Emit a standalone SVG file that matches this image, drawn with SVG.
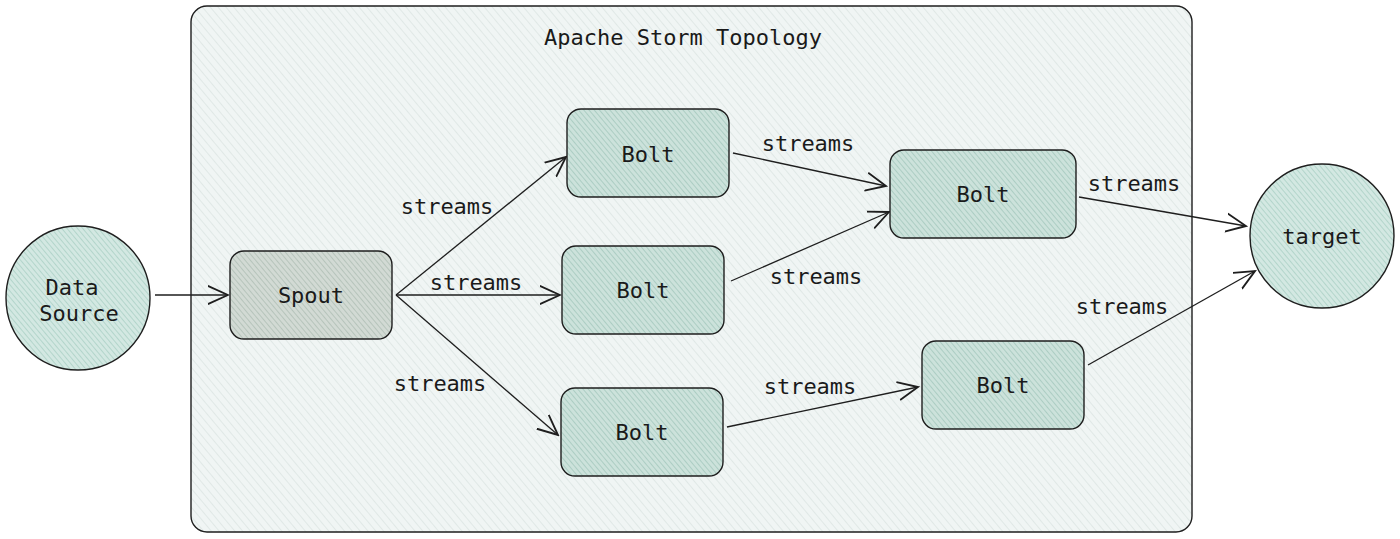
<svg xmlns="http://www.w3.org/2000/svg" width="1400" height="539" viewBox="0 0 1400 539">
<style>
.t{font-family:"DejaVu Sans Mono","Liberation Mono",monospace;font-size:22px;fill:#1a1a1a;text-anchor:middle;dominant-baseline:central}
.box{stroke:#1e1e1e;stroke-width:1.4}
.c{stroke:#1e1e1e;stroke-width:1.3;fill:none;marker-end:url(#ah)}
</style>
<defs>
<pattern id="hc" width="6" height="6" patternUnits="userSpaceOnUse" patternTransform="rotate(-40)">
<rect width="6" height="6" fill="#f0f5f4"/><line x1="0" y1="0" x2="0" y2="6" stroke="#d5e0dd" stroke-width="1.2"/>
</pattern>
<pattern id="hb" width="4" height="4" patternUnits="userSpaceOnUse" patternTransform="rotate(-40)">
<rect width="4" height="4" fill="#cce2db"/><line x1="0" y1="0" x2="0" y2="4" stroke="#9fc4b9" stroke-width="1.4"/>
</pattern>
<pattern id="hs" width="4" height="4" patternUnits="userSpaceOnUse" patternTransform="rotate(-40)">
<rect width="4" height="4" fill="#d2dad4"/><line x1="0" y1="0" x2="0" y2="4" stroke="#aabbb0" stroke-width="1.4"/>
</pattern>
<pattern id="hk" width="4" height="4" patternUnits="userSpaceOnUse" patternTransform="rotate(-40)">
<rect width="4" height="4" fill="#d3e8e2"/><line x1="0" y1="0" x2="0" y2="4" stroke="#a6cdc2" stroke-width="1.4"/>
</pattern>
<marker id="ah" viewBox="0 0 12 12" refX="11" refY="6" markerWidth="22" markerHeight="22" markerUnits="userSpaceOnUse" orient="auto">
<path d="M0,1 L11,6 L0,11" fill="none" stroke="#1e1e1e" stroke-width="1"/>
</marker>
</defs>
<rect width="1400" height="539" fill="#ffffff"/>
<g id="topology">
<rect class="box" x="191" y="6" width="1001" height="526" rx="16" fill="url(#hc)"/>
<text class="t" x="683" y="37">Apache Storm Topology</text>
</g>
<g id="connectors">
<line class="c" x1="155" y1="295" x2="228" y2="295"/>
<line class="c" x1="396" y1="295" x2="566" y2="157"/>
<line class="c" x1="396" y1="295" x2="560" y2="295"/>
<line class="c" x1="396" y1="295" x2="558" y2="435"/>
<line class="c" x1="733" y1="153" x2="886" y2="186"/>
<line class="c" x1="731" y1="281" x2="889" y2="212"/>
<line class="c" x1="727" y1="427" x2="918" y2="387"/>
<line class="c" x1="1079" y1="197" x2="1246" y2="226"/>
<line class="c" x1="1088" y1="365" x2="1255" y2="271"/>
<text class="t" x="447" y="206">streams</text>
<text class="t" x="476" y="282">streams</text>
<text class="t" x="440" y="383">streams</text>
<text class="t" x="808" y="143">streams</text>
<text class="t" x="816" y="276">streams</text>
<text class="t" x="810" y="386">streams</text>
<text class="t" x="1134" y="183">streams</text>
<text class="t" x="1122" y="306">streams</text>
</g>
<g id="data-source">
<circle class="box" cx="78" cy="298" r="72" fill="url(#hk)"/>
<text class="t" x="72" y="287">Data</text>
<text class="t" x="79" y="313">Source</text>
</g>
<g id="spout">
<rect class="box" x="230" y="251" width="162" height="88" rx="14" fill="url(#hs)"/>
<text class="t" x="311" y="295">Spout</text>
</g>
<g id="bolt1">
<rect class="box" x="567" y="109" width="162" height="88" rx="14" fill="url(#hb)"/>
<text class="t" x="648" y="154">Bolt</text>
</g>
<g id="bolt2">
<rect class="box" x="562" y="246" width="162" height="88" rx="14" fill="url(#hb)"/>
<text class="t" x="643" y="290">Bolt</text>
</g>
<g id="bolt3">
<rect class="box" x="561" y="388" width="162" height="88" rx="14" fill="url(#hb)"/>
<text class="t" x="642" y="432">Bolt</text>
</g>
<g id="bolt4">
<rect class="box" x="890" y="150" width="186" height="88" rx="14" fill="url(#hb)"/>
<text class="t" x="983" y="194">Bolt</text>
</g>
<g id="bolt5">
<rect class="box" x="922" y="341" width="162" height="88" rx="14" fill="url(#hb)"/>
<text class="t" x="1003" y="385">Bolt</text>
</g>
<g id="target">
<circle class="box" cx="1322" cy="236" r="72" fill="url(#hk)"/>
<text class="t" x="1322" y="236">target</text>
</g>
</svg>
